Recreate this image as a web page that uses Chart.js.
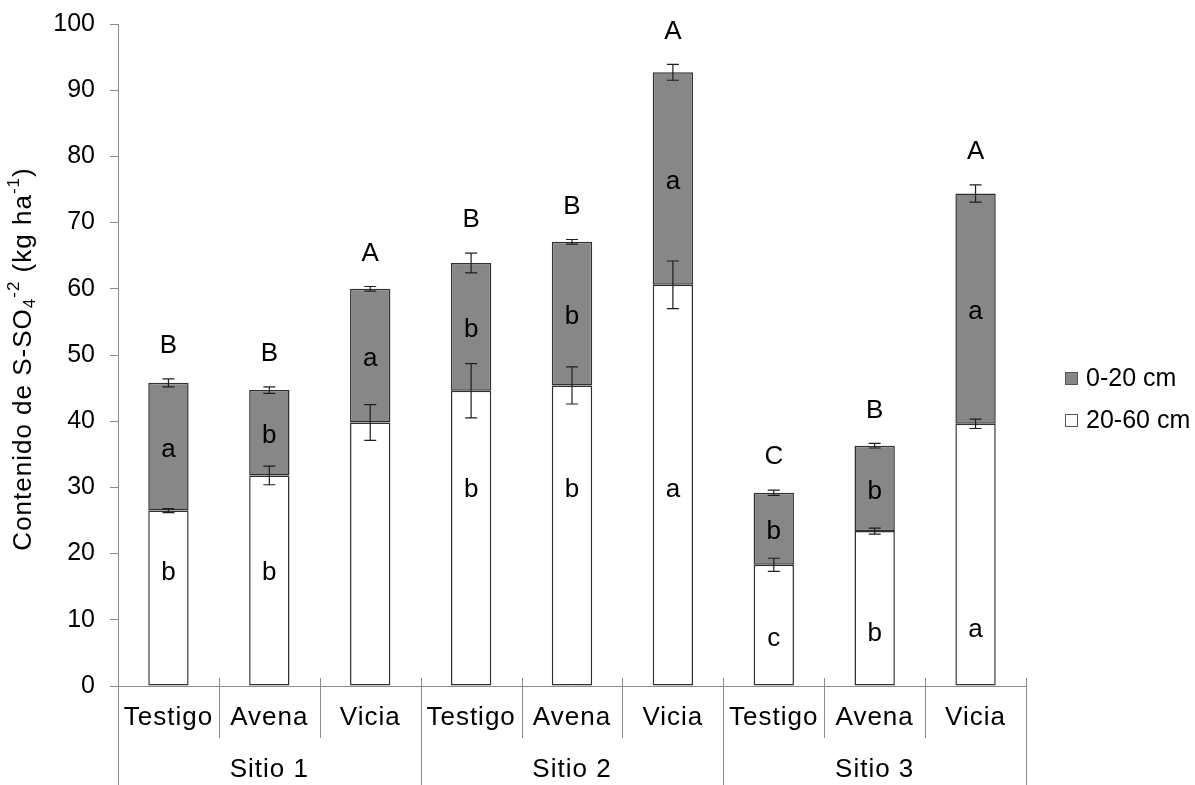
<!DOCTYPE html>
<html>
<head>
<meta charset="utf-8">
<script src="https://cdn.jsdelivr.net/npm/chart.js@4.4.1/dist/chart.umd.min.js"></script>
<style>
  html, body { margin: 0; padding: 0; background: #fff; }
  #wrap { width: 1195px; height: 785px; }
</style>
</head>
<body>
<div id="wrap"><canvas id="sulfatoChart" width="1195" height="785"></canvas></div>
<script>
// tratamientos por sitio
const tratamientos = ['Testigo', 'Avena', 'Vicia', 'Testigo', 'Avena', 'Vicia', 'Testigo', 'Avena', 'Vicia'];
const sitios = ['Sitio 1', 'Sitio 2', 'Sitio 3'];

// S-SO4 (kg/ha) por profundidad
const prof2060 = [26.5, 31.8, 39.8, 44.6, 45.4, 60.6, 18.3, 23.4, 39.6];
const prof020 = [19.3, 12.9, 20.2, 19.3, 21.7, 32.1, 10.9, 12.9, 34.8];
const err2060 = [0.3, 1.4, 2.7, 4.1, 2.8, 3.6, 1.0, 0.45, 0.7];
const err020 = [0.6, 0.5, 0.35, 1.5, 0.35, 1.2, 0.4, 0.35, 1.3];

// letras de comparacion de medias
const letrasTotal = ['B', 'B', 'A', 'B', 'B', 'A', 'C', 'B', 'A'];
const letras020 = ['a', 'b', 'a', 'b', 'b', 'a', 'b', 'b', 'a'];
const letras2060 = ['b', 'b', '', 'b', 'b', 'a', 'c', 'b', 'a'];
const altLetras2060 = [17.1, 17.1, 0, 29.6, 29.6, 29.6, 7.1, 7.9, 8.5];

const GRIS = '#878787';
const BORDE = '#303030';
const EJE = '#8c8c8c';
const FUENTE = '"Liberation Sans", Arial, sans-serif';

const anotaciones = {
  id: 'anotaciones',
  afterDatasetsDraw(chart) {
    const { ctx, chartArea: ca, scales: { x, y } } = chart;
    ctx.save();

    // barras de error
    ctx.strokeStyle = '#1e1e1e';
    ctx.lineWidth = 1.2;
    const barraError = (cx, v, e) => {
      const y1 = y.getPixelForValue(v + e), y2 = y.getPixelForValue(v - e);
      ctx.beginPath();
      ctx.moveTo(cx, y1); ctx.lineTo(cx, y2);
      ctx.moveTo(cx - 6, y1); ctx.lineTo(cx + 6, y1);
      ctx.moveTo(cx - 6, y2); ctx.lineTo(cx + 6, y2);
      ctx.stroke();
    };

    ctx.fillStyle = '#000';
    ctx.textAlign = 'center';
    ctx.textBaseline = 'middle';
    ctx.font = '26px ' + FUENTE;
    tratamientos.forEach((t, i) => {
      const cx = x.getPixelForValue(i);
      const total = prof2060[i] + prof020[i];
      barraError(cx, prof2060[i], err2060[i]);
      barraError(cx, total, err020[i]);

      ctx.fillText(letrasTotal[i], cx, y.getPixelForValue(total + err020[i]) - 33);
      const medio = (y.getPixelForValue(prof2060[i]) + y.getPixelForValue(total)) / 2;
      ctx.fillText(letras020[i], cx, medio + 3);
      if (letras2060[i]) ctx.fillText(letras2060[i], cx, y.getPixelForValue(altLetras2060[i]));
    });

    // eje x: tratamientos, sitios y separadores
    const ancho = (ca.right - ca.left) / tratamientos.length;
    ctx.strokeStyle = EJE;
    ctx.lineWidth = 1;
    for (let k = 0; k <= tratamientos.length; k++) {
      const px = Math.round(ca.left + k * ancho) + 0.5;
      ctx.beginPath();
      ctx.moveTo(px, ca.bottom - 8);
      ctx.lineTo(px, k % 3 === 0 ? 785 : ca.bottom + 52);
      ctx.stroke();
    }
    ctx.letterSpacing = '1px';
    tratamientos.forEach((t, i) => ctx.fillText(t, x.getPixelForValue(i), ca.bottom + 32));
    sitios.forEach((s, g) => ctx.fillText(s, ca.left + (g * 3 + 1.5) * ancho, ca.bottom + 84));

    // titulo del eje y con sub y superindices
    const partes = [
      ['Contenido de S-SO', 0, 26], ['4', 6, 17], ['-2', -10, 17],
      [' (kg ha', 0, 26], ['-1', -10, 17], [')', 0, 26]
    ];
    ctx.translate(24, (ca.top + ca.bottom) / 2 + 4);
    ctx.rotate(-Math.PI / 2);
    ctx.textAlign = 'left';
    let largo = 0;
    partes.forEach(p => { ctx.font = p[2] + 'px ' + FUENTE; largo += ctx.measureText(p[0]).width; });
    let px = -largo / 2;
    partes.forEach(p => {
      ctx.font = p[2] + 'px ' + FUENTE;
      ctx.fillText(p[0], px, p[1]);
      px += ctx.measureText(p[0]).width;
    });
    ctx.restore();

    // leyenda
    ctx.save();
    ctx.font = '25px ' + FUENTE;
    ctx.textBaseline = 'middle';
    ctx.fillStyle = '#000';
    const items = chart.data.datasets.slice().reverse();
    items.forEach((ds, j) => {
      const cy = 379 + j * 42;
      ctx.fillStyle = ds.backgroundColor;
      ctx.fillRect(1065.5, cy - 6.5, 12, 12);
      ctx.strokeStyle = '#555';
      ctx.lineWidth = 1;
      ctx.strokeRect(1065.5, cy - 6.5, 12, 12);
      ctx.fillStyle = '#000';
      ctx.fillText(ds.label, 1086, cy);
    });
    ctx.restore();
  }
};

new Chart(document.getElementById('sulfatoChart'), {
  type: 'bar',
  data: {
    labels: tratamientos,
    datasets: [
      {
        label: '20-60 cm',
        data: prof2060,
        backgroundColor: '#ffffff',
        borderColor: BORDE,
        borderWidth: 1.5,
        borderSkipped: false
      },
      {
        label: '0-20 cm',
        data: prof020,
        backgroundColor: GRIS,
        borderColor: BORDE,
        borderWidth: 1.5,
        borderSkipped: false
      }
    ]
  },
  options: {
    responsive: false,
    animation: false,
    devicePixelRatio: 1,
    layout: { padding: { top: 24, right: 169, left: 0, bottom: 0 } },
    datasets: { bar: { categoryPercentage: 1, barPercentage: 0.4 } },
    plugins: { legend: { display: false }, tooltip: { enabled: false } },
    scales: {
      x: {
        stacked: true,
        grid: { display: false },
        ticks: { display: false },
        border: { color: EJE, width: 1 },
        afterFit: s => { s.height = 99; }
      },
      y: {
        stacked: true,
        min: 0,
        max: 100,
        ticks: {
          stepSize: 10,
          padding: 15,
          color: '#000',
          font: { family: FUENTE, size: 25 }
        },
        grid: { drawOnChartArea: false, tickLength: 8, color: EJE },
        border: { color: EJE, width: 1 },
        afterFit: s => { s.width = 118; s.paddingTop = 0; s.paddingBottom = 0; }
      }
    }
  },
  plugins: [anotaciones]
});
</script>
</body>
</html>
